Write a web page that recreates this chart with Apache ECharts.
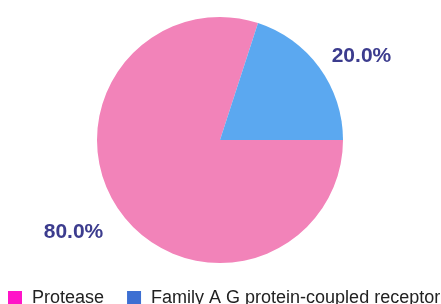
<!DOCTYPE html>
<html>
<head>
<meta charset="utf-8">
<script src="https://cdn.jsdelivr.net/npm/echarts@6/dist/echarts.min.js"></script>
<style>
html,body{margin:0;padding:0;background:#fff;}
#main{width:441px;height:304px;}
</style>
</head>
<body>
<div id="main"></div>
<script>
var names = ['Protease', 'Family A G protein-coupled receptor'];
var values = [80, 20];
var sliceColors = ['#f283b9', '#5ba8f0'];
var legendColors = ['#ff14c8', '#3d6fd2'];
var labelLengths = [25, 20];
var labelShift = [[8, 5], [-9, 0]];

window.onload = function () {
    var myChart = echarts.init(document.getElementById('main'));
    var data = [];
    for (var i = 0; i < names.length; i++) {
        data.push({
            name: names[i],
            value: values[i],
            itemStyle: {color: sliceColors[i]},
            labelLine: {show: false, length: labelLengths[i], length2: 0}
        });
    }
    var option = {
        animation: false,
        legend: {
            left: 8,
            top: 289,
            width: 480,
            padding: 0,
            itemWidth: 14,
            itemHeight: 14,
            itemGap: 23,
            icon: 'rect',
            textStyle: {fontFamily: 'Liberation Sans', fontSize: 18, color: '#222', padding: [0, 0, 0, 5]},
            data: names.map(function (n, i) {
                return {name: n, itemStyle: {color: legendColors[i]}};
            })
        },
        series: [{
            type: 'pie',
            center: [220, 140],
            radius: 123,
            startAngle: 0,
            clockwise: true,
            label: {
                show: true,
                position: 'outside',
                formatter: function (p) { return p.percent.toFixed(1) + '%'; },
                fontFamily: 'Liberation Sans',
                fontSize: 21,
                fontWeight: 'bold',
                color: '#3c3c8e'
            },
            labelLine: {show: false},
            labelLayout: function (p) {
                return {dx: labelShift[p.dataIndex][0], dy: labelShift[p.dataIndex][1]};
            },
            data: data
        }]
    };
    myChart.setOption(option);
};
</script>
</body>
</html>
